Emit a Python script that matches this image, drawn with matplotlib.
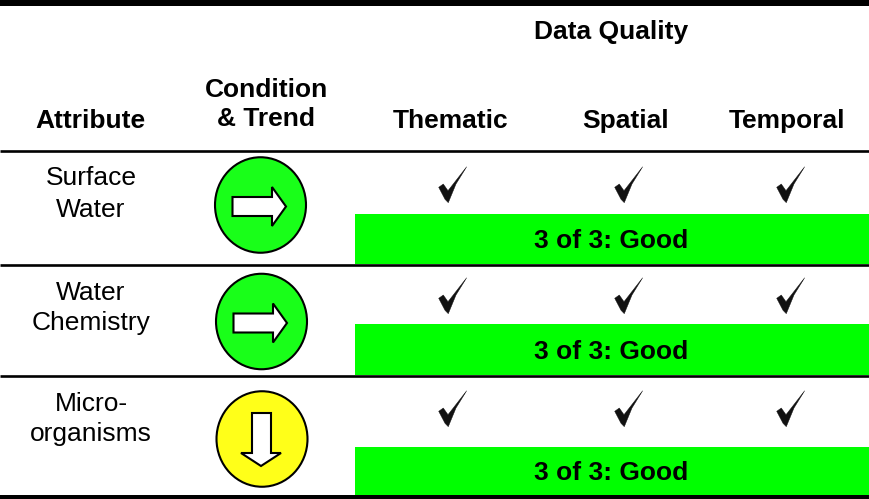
import matplotlib
matplotlib.use('Agg')
import matplotlib.pyplot as plt
from matplotlib.patches import Ellipse, Polygon, Rectangle

plt.rcParams['font.family'] = ['Liberation Sans', 'DejaVu Sans']

attributes = ['Surface\nWater', 'Water\nChemistry', 'Micro-\norganisms']
quality_cols = ['Thematic', 'Spatial', 'Temporal']
quality_text = ['3 of 3: Good', '3 of 3: Good', '3 of 3: Good']
circle_colors = ['#19ff19', '#19ff19', '#ffff19']
trends = ['right', 'right', 'down']

# layout in pixels
W, H = 869, 499
row_lines = [151, 265, 376]
attr_y = [194, 308, 419]
attr_spacing = [1.38, 1.3, 1.3]
circle_xy = [(260.5, 205), (261.5, 321.5), (262, 439)]
check_y = [185, 296, 409]
check_x = [451, 627, 789]
bar_tops = [214, 324, 447]
bar_bottoms = [264, 375, 495]

fig = plt.figure(figsize=(W / 100, H / 100), dpi=100)
ax = fig.add_axes([0, 0, 1, 1])
ax.set_xlim(0, W)
ax.set_ylim(H, 0)
ax.axis('off')

ax.add_patch(Rectangle((0, 0), W, 6, color='black', lw=0))
ax.add_patch(Rectangle((0, 495), W, 4, color='black', lw=0, zorder=5))
for y in row_lines:
    ax.plot([0, W], [y, y], color='black', lw=1.9, solid_capstyle='butt', zorder=5)

bold = dict(fontsize=19, fontweight='bold', ha='center', va='center')
ax.text(611, 32, 'Data Quality', **bold)
ax.text(90, 121, 'Attribute', **bold)
ax.text(266, 104.5, 'Condition\n& Trend', linespacing=1.3, **bold)
for x, name in zip([451, 626, 787], quality_cols):
    ax.text(x, 121, name, **bold)


def draw_check(cx, cy):
    pts = [(-12.3, 2.3), (-7.7, -1), (-3, 5.7), (15.7, -18.3), (5, -1), (-2.7, 17.7), (-6, 14.3)]
    ax.add_patch(Polygon([(cx + a, cy + b) for a, b in pts], fc='#111111', ec='#111111', lw=0.3, zorder=3))


def draw_arrow(cx, cy, direction):
    if direction == 'right':
        pts = [(-28, -8), (11.5, -8), (11.5, -18), (25.5, 1.5), (11.5, 21), (11.5, 11), (-28, 11)]
    else:
        pts = [(-10, -26), (9, -26), (9, 14), (19, 14), (-1, 27), (-21, 14), (-10, 14)]
    ax.add_patch(Polygon([(cx + a, cy + b) for a, b in pts], fc='white', ec='black', lw=1.5, zorder=4))


for i, attr in enumerate(attributes):
    ax.text(91, attr_y[i], attr, fontsize=19, ha='center', va='center', linespacing=attr_spacing[i])
    cx, cy = circle_xy[i]
    ax.add_patch(Ellipse((cx, cy), 91, 95.5, fc=circle_colors[i], ec='black', lw=1.5, zorder=3))
    draw_arrow(cx, cy, trends[i])
    for x in check_x:
        draw_check(x, check_y[i])
    ax.add_patch(Rectangle((355, bar_tops[i]), W - 355, bar_bottoms[i] - bar_tops[i], color='#00ff00', lw=0))
    ax.text(611, (bar_tops[i] + bar_bottoms[i]) / 2 + 2.5, quality_text[i], **bold)

fig.savefig('out.png', dpi=100)
